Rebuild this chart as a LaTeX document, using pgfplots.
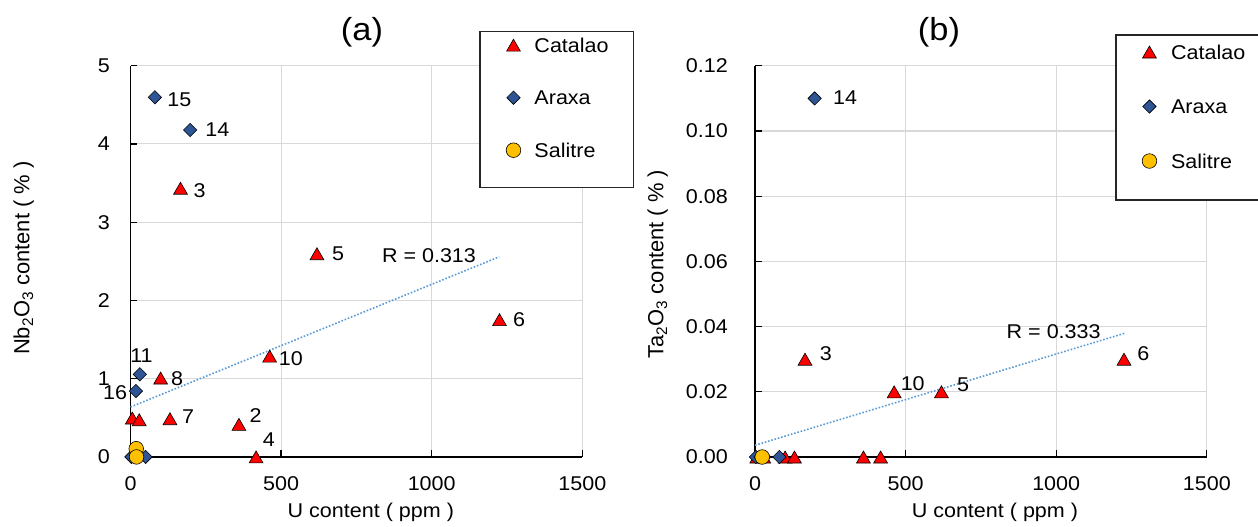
\documentclass[border=0pt]{standalone}
\usepackage{pgfplots}
\pgfplotsset{compat=1.18}
\usepackage{fontspec}
\setmainfont{Liberation Sans}[FakeStretch=1.08]
\newfontfamily\ylabfont{Liberation Sans}
\definecolor{cred}{HTML}{FF0000}
\definecolor{cblue}{HTML}{2F5597}
\definecolor{cyel}{HTML}{FFC000}
\definecolor{ctrend}{HTML}{5B9BD5}
\definecolor{cgrid}{HTML}{D9D9D9}
\newcommand{\fs}{\fontsize{20}{24}\selectfont}
\pgfplotsset{
  myax/.style={
    scale only axis, width=451.8bp, height=391.2bp,
    axis x line=bottom, axis y line=left,
    axis line style={-, black, line width=1.3bp},
    tick align=inside, major tick length=6.7bp,
    every tick/.style={black, line width=1.3bp},
    grid=major, major grid style={cgrid, line width=1.1bp},
    xmin=0, xmax=1500, xtick={0,500,1000,1500},
    clip=false,
    /pgf/number format/assume math mode=true,
    /pgf/number format/1000 sep={},
    tick label style={font=\fs, inner sep=0pt},
    xticklabel style={anchor=north, yshift=-19.5bp},
    xlabel style={font=\fs, inner sep=0pt, anchor=base},
    ylabel style={font=\ylabfont\fontsize{22}{26}\selectfont, inner sep=0pt, anchor=base},
    legend cell align=left,
    legend image code/.code={\pgfpathrectangle{\pgfpoint{-10bp}{-8bp}}{\pgfpoint{20bp}{16bp}}\pgfusepath{discard}\draw[##1, only marks] plot coordinates {(0bp,0bp)};},
  },
  cat/.style={only marks, mark=triangle*, mark size=8bp, mark options={fill=cred, draw=black, line width=0.6bp, yshift=-2bp}},
  ara/.style={only marks, mark=square*, mark size=4.7bp, mark options={fill=cblue, draw=black, line width=0.6bp, rotate=45}},
  sal/.style={only marks, mark=*, mark size=7.3bp, mark options={fill=cyel, draw=black, line width=0.6bp}},
  trend/.style={ctrend, line width=1.6bp, dash pattern=on 1.6bp off 1.8bp, forget plot},
}
\tikzset{lab/.style={inner sep=0pt, font=\fs, text depth=0pt}}
\begin{document}
\begin{tikzpicture}
% ---------- (a)
\begin{axis}[myax, at={(130.5bp,-456.9bp)}, anchor=south west,
  ymin=0, ymax=5, ytick={0,1,2,3,4,5},
  yticklabel style={anchor=east, xshift=-20.5bp},
  xlabel={U content ( ppm )}, xlabel style={at={(axis description cs:0.532,-0.1559)}},
  ylabel={Nb\textsubscript{2}O\textsubscript{3} content ( \% )}, ylabel style={at={(axis description cs:-0.2236,0.508)}},
  legend style={at={(0.8251,1.0734)}, anchor=north west, draw=none, fill=none, inner sep=0pt,
    row sep=36.5bp, column sep=11bp, font=\fs, nodes={inner sep=0pt, text depth=0pt}},
]
\addplot[trend] coordinates {(0,0.638) (1224,2.557)};
\addplot[cat] coordinates {(6,0.497) (29,0.475) (100,1.008) (131,0.488) (360,0.416) (417,0) (166,3.434) (619,2.597) (1225,1.754) (462,1.288)};
\addlegendentry{Catalao}
\addplot[ara] coordinates {(3,0) (50,0) (18,0.842) (31,1.056) (198,4.178) (81,4.596)};
\addlegendentry{Araxa}
\addplot[sal] coordinates {(19,0.105) (20,0)};
\addlegendentry{Salitre}
\draw[fill=white, draw=black!85, line width=1.2bp] (axis description cs:0.7736,1.0869) rectangle (axis description cs:1.1129,0.6892);
\node[lab, anchor=west, xshift=12.4bp, yshift=-2.7bp] at (axis cs:81,4.596) {15};
\node[lab, anchor=west, xshift=15bp] at (axis cs:198,4.178) {14};
\node[lab, anchor=west, xshift=13bp, yshift=-2bp] at (axis cs:166,3.434) {3};
\node[lab, anchor=west, xshift=15bp] at (axis cs:619,2.597) {5};
\node[lab, anchor=west, xshift=13.4bp] at (axis cs:1225,1.754) {6};
\node[lab, anchor=west, xshift=9bp, yshift=-2bp] at (axis cs:462,1.288) {10};
\node[lab, anchor=center, xshift=1.7bp, yshift=19bp] at (axis cs:31,1.056) {11};
\node[lab, anchor=east, xshift=-8.7bp, yshift=-2bp] at (axis cs:18,0.842) {16};
\node[lab, anchor=west, xshift=10.4bp, yshift=-0.7bp] at (axis cs:100,1.008) {8};
\node[lab, anchor=west, xshift=12bp, yshift=1.7bp] at (axis cs:131,0.488) {7};
\node[lab, anchor=west, xshift=10.6bp, yshift=9bp] at (axis cs:360,0.416) {2};
\node[lab, anchor=west, xshift=6.5bp, yshift=17.7bp] at (axis cs:417,0) {4};
\node[lab, anchor=center] at (axis cs:991,2.58) {R = 0.313};
\end{axis}
% ---------- (b)
\begin{axis}[myax, at={(755bp,-457bp)}, anchor=south west,
  ymin=0, ymax=0.12, ytick={0,0.02,0.04,0.06,0.08,0.10,0.12},
  yticklabel style={anchor=east, xshift=-27bp, /pgf/number format/.cd, fixed, fixed zerofill, precision=2},
  xlabel={U content ( ppm )}, xlabel style={at={(axis description cs:0.531,-0.1559)}},
  ylabel={Ta\textsubscript{2}O\textsubscript{3} content ( \% )}, ylabel style={at={(axis description cs:-0.2027,0.493)}},
  legend style={at={(0.8505,1.0562)}, anchor=north west, draw=none, fill=none, inner sep=0pt,
    row sep=38.5bp, column sep=11.6bp, font=\fs, nodes={inner sep=0pt, text depth=0pt}},
]
\addplot[trend] coordinates {(0,0.0036) (1229,0.038)};
\addplot[cat] coordinates {(6,0) (29,0) (100,0) (131,0) (360,0) (417,0) (166,0.03) (619,0.02) (1225,0.03) (462,0.02)};
\addlegendentry{Catalao}
\addplot[ara] coordinates {(3,0) (18,0) (31,0) (81,0) (198,0.11)};
\addlegendentry{Araxa}
\addplot[sal] coordinates {(24,0)};
\addlegendentry{Salitre}
\draw[fill=white, draw=black!85, line width=1.2bp] (axis description cs:0.7988,1.0785) rectangle (axis description cs:1.25,0.6568);
\node[lab, anchor=west, xshift=18.3bp, yshift=1bp] at (axis cs:198,0.11) {14};
\node[lab, anchor=west, xshift=14.7bp, yshift=5.4bp] at (axis cs:166,0.03) {3};
\node[lab, anchor=west, xshift=6.4bp, yshift=8.5bp] at (axis cs:462,0.02) {10};
\node[lab, anchor=west, xshift=15.4bp, yshift=7bp] at (axis cs:619,0.02) {5};
\node[lab, anchor=west, xshift=13.3bp, yshift=6bp] at (axis cs:1225,0.03) {6};
\node[lab, anchor=center] at (axis cs:991.6,0.0385) {R = 0.333};
\end{axis}
\node[anchor=base, inner sep=0pt, font=\fontsize{32}{38}\selectfont] at (362bp,-40.3bp) {(a)};
\node[anchor=base, inner sep=0pt, font=\fontsize{32}{38}\selectfont] at (939bp,-40.3bp) {(b)};
\pgfresetboundingbox
\path[use as bounding box] (0bp,0bp) rectangle (1258bp,-527bp);
\end{tikzpicture}
\end{document}
